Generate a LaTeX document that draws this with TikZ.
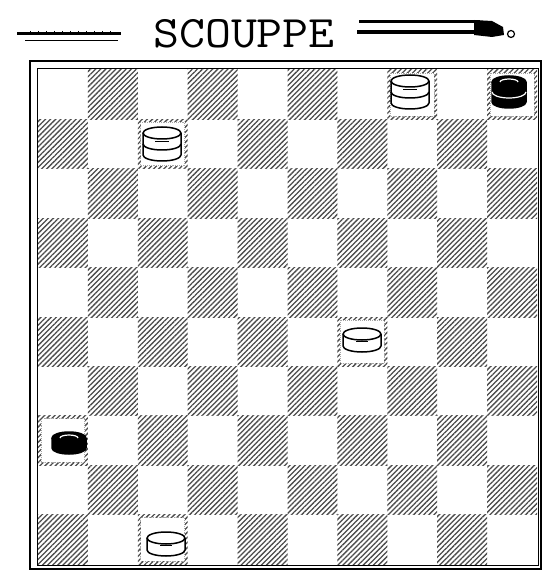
\documentclass[tikz,border=0pt]{standalone}
\usepackage{fontspec}
\usetikzlibrary{patterns.meta}
\begin{document}
\begin{tikzpicture}[x=1pt,y=-1pt,
  darksq/.style={fill=gray!45, pattern={Lines[angle=45,distance=3.6pt,line width=1.3pt]}, pattern color=black!70},
  clearsq/.style={fill=white, draw=gray!70, densely dotted, line width=0.9pt},
  rim/.style={line width=1.5pt, line join=round},
  pics/wman/.style={code={
    \draw[rim, fill=white] (-19,-6) -- (-19,6) arc(180:0:19 and 6) -- (19,-6);
    \draw[rim, fill=white] (0,-6) ellipse (19 and 6);
    \draw[line width=1pt] (-6,1) -- (6,1);
  }},
  pics/wking/.style={code={
    \draw[rim, fill=white] (-19,0) -- (-19,11) arc(180:0:19 and 6) -- (19,0);
    \draw[rim, fill=white] (-19,-11) -- (-19,0) arc(180:0:19 and 6) -- (19,-11);
    \draw[rim, fill=white] (0,-11) ellipse (19 and 6);
    \draw[line width=1pt] (-7,-2) -- (7,-2);
  }},
  pics/bman/.style={code={
    \draw[rim, fill=black] (-17,-5) -- (-17,5) arc(180:0:17 and 6) -- (17,-5);
    \draw[rim, fill=black] (0,-5) ellipse (17 and 6);
    \draw[white, line width=1.2pt] (-9,-5) arc(180:360:9 and 3);
  }},
  pics/bking/.style={code={
    \draw[rim, fill=black] (-17,0) -- (-17,10) arc(180:0:17 and 6) -- (17,0);
    \draw[rim, fill=black] (-17,-10) -- (-17,0) arc(180:0:17 and 6) -- (17,-10);
    \draw[rim, fill=black] (0,-10) ellipse (17 and 6);
    \draw[white, line width=1.2pt] (-17,0) arc(180:0:17 and 6);
    \draw[white, line width=1.2pt] (-9,-10) arc(180:360:9 and 3);
  }}
]
\useasboundingbox (0,0) rectangle (543,572);
\fill[white] (0,0) rectangle (543,572);

% title and ornaments
\node[font=\ttfamily\fontsize{45}{45}\selectfont, xscale=1.12, inner sep=0pt] (title) at (244,34) {SCOUPPE};
\draw[line width=3pt] (17,34) -- (121,34);
\draw[line width=0.8pt] (25,40) -- (118,40);
\foreach \t in {30,38,...,110} \draw[line width=0.6pt] (\t,31) -- (\t,34);
\draw[line width=3pt] (359,22) -- (480,22);
\draw[line width=3.5pt] (357,32) -- (478,32);
\fill (474,20) -- (492,21) -- (503,27) -- (504,35) -- (492,37) -- (474,35) -- cycle;
\draw[line width=1.2pt] (511,34) circle (3.5);

% board
\def\bx{38}\def\by{70}\def\sx{49.9}\def\sy{49.4}
\foreach \r in {0,...,9}{
  \foreach \c in {0,...,9}{
    \pgfmathtruncatemacro\odd{mod(\r+\c,2)}
    \ifnum\odd=1
      \path[darksq] ({\bx+\c*\sx},{\by+\r*\sy}) rectangle ++(\sx,\sy);
    \fi
  }
}
% cleared squares under the pieces
\foreach \r/\c in {1/8,1/10,2/3,6/7,8/1,10/3}{
  \path[clearsq] ({\bx+(\c-1)*\sx+3},{\by+(\r-1)*\sy+3}) rectangle ++({\sx-6},{\sy-6});
}
% frames
\draw[line width=0.9pt] (37,68) rectangle (538,565);
\draw[line width=2.6pt] (30,61) rectangle (541,569);

% pieces
\pic at (410,92) {wking};
\pic at (509,92) {bking};
\pic at (162,144) {wking};
\pic at (362,340) {wman};
\pic at (69,443) {bman};
\pic at (166,544) {wman};
\end{tikzpicture}
\end{document}
